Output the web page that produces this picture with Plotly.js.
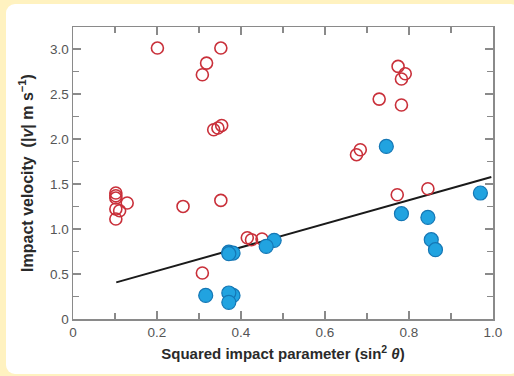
<!DOCTYPE html>
<html>
<head>
<meta charset="utf-8">
<script src="https://cdn.plot.ly/plotly-3.0.1.min.js"></script>
<style>
  html, body { margin: 0; padding: 0; background: #fff2c0; width: 514px; height: 376px; overflow: hidden; }
  #panel { position: absolute; left: 6px; top: 4px; width: 514px; height: 370px; background: #ffffff; border-radius: 9px; }
  #chart { position: absolute; left: 0; top: 0; width: 514px; height: 376px; }
</style>
</head>
<body>
<div id="panel"></div>
<div id="chart"></div>
<script>
// Open red circles
const openX = [0.201, 0.352, 0.318, 0.308, 0.335, 0.345, 0.354,
               0.774, 0.791, 0.782, 0.729, 0.782, 0.675, 0.684, 0.772, 0.845,
               0.102, 0.102, 0.102, 0.129, 0.102, 0.111, 0.102,
               0.262, 0.352, 0.308, 0.415, 0.425, 0.450];
const openY = [3.011, 3.011, 2.844, 2.714, 2.103, 2.122, 2.151,
               2.807, 2.726, 2.667, 2.444, 2.378, 1.826, 1.881, 1.381, 1.448,
               1.400, 1.370, 1.344, 1.289, 1.222, 1.203, 1.111,
               1.251, 1.318, 0.511, 0.903, 0.881, 0.889];
// Filled blue circles
const fillX = [0.746, 0.970, 0.782, 0.845, 0.853, 0.863,
               0.479, 0.460, 0.371, 0.381, 0.371,
               0.316, 0.381, 0.371, 0.371];
const fillY = [1.918, 1.400, 1.170, 1.129, 0.881, 0.770,
               0.874, 0.807, 0.744, 0.733, 0.726,
               0.262, 0.262, 0.289, 0.185];
// Fitted line end points
const fitX = [0.103, 0.996];
const fitY = [0.407, 1.578];

const traces = [
  { x: fitX, y: fitY, type: 'scatter', mode: 'lines',
    line: { color: '#1a1a1a', width: 2 }, hoverinfo: 'skip', showlegend: false },
  { x: openX, y: openY, type: 'scatter', mode: 'markers', showlegend: false,
    marker: { symbol: 'circle-open', size: 12, color: '#c9303a', line: { width: 1.6, color: '#c9303a' } } },
  { x: fillX, y: fillY, type: 'scatter', mode: 'markers', showlegend: false,
    marker: { symbol: 'circle', size: 14, color: '#21a3e0', line: { width: 1.2, color: '#1577b5' } } }
];

const axisCommon = {
  showgrid: false, zeroline: false, showline: true, linecolor: '#8a8a8a', linewidth: 1.5,
  mirror: 'allticks', ticks: 'inside', ticklen: 8, tickwidth: 1.2, tickcolor: '#8a8a8a',
  tickfont: { family: 'Liberation Sans, Arial, sans-serif', size: 13.5, color: '#555555' }
};

const layout = {
  width: 514, height: 376,
  margin: { l: 73, r: 21, t: 27, b: 57 },
  paper_bgcolor: 'rgba(0,0,0,0)', plot_bgcolor: 'rgba(0,0,0,0)',
  xaxis: Object.assign({}, axisCommon, {
    range: [0, 1], tickvals: [0, 0.2, 0.4, 0.6, 0.8, 1.0],
    ticktext: ['0', '0.2', '0.4', '0.6', '0.8', '1.0'],
    minor: { tickvals: [0.1, 0.3, 0.5, 0.7, 0.9], ticks: 'inside', ticklen: 6, tickcolor: '#8a8a8a', tickwidth: 1.2 },
    title: { text: '<b>Squared impact parameter (sin<sup>2</sup> <i>θ</i>)</b>', standoff: 10,
             font: { family: 'Liberation Sans, Arial, sans-serif', size: 15, color: '#2a2a2a' } }
  }),
  yaxis: Object.assign({}, axisCommon, {
    range: [0, 3.245], tickvals: [0, 0.5, 1.0, 1.5, 2.0, 2.5, 3.0],
    ticktext: ['0', '0.5', '1.0', '1.5', '2.0', '2.5', '3.0'],
    minor: { tickvals: [0.25, 0.75, 1.25, 1.75, 2.25, 2.75, 3.25], ticks: 'inside', ticklen: 6, tickcolor: '#8a8a8a', tickwidth: 1.2 },
    title: { text: '<b>Impact velocity&nbsp;&nbsp;(|<i>v</i>| m&nbsp;s<sup>−1</sup>)</b>', standoff: 12,
             font: { family: 'Liberation Sans, Arial, sans-serif', size: 16, color: '#2a2a2a' } }
  })
};

Plotly.newPlot('chart', traces, layout, { displayModeBar: false, staticPlot: true });
</script>
</body>
</html>
